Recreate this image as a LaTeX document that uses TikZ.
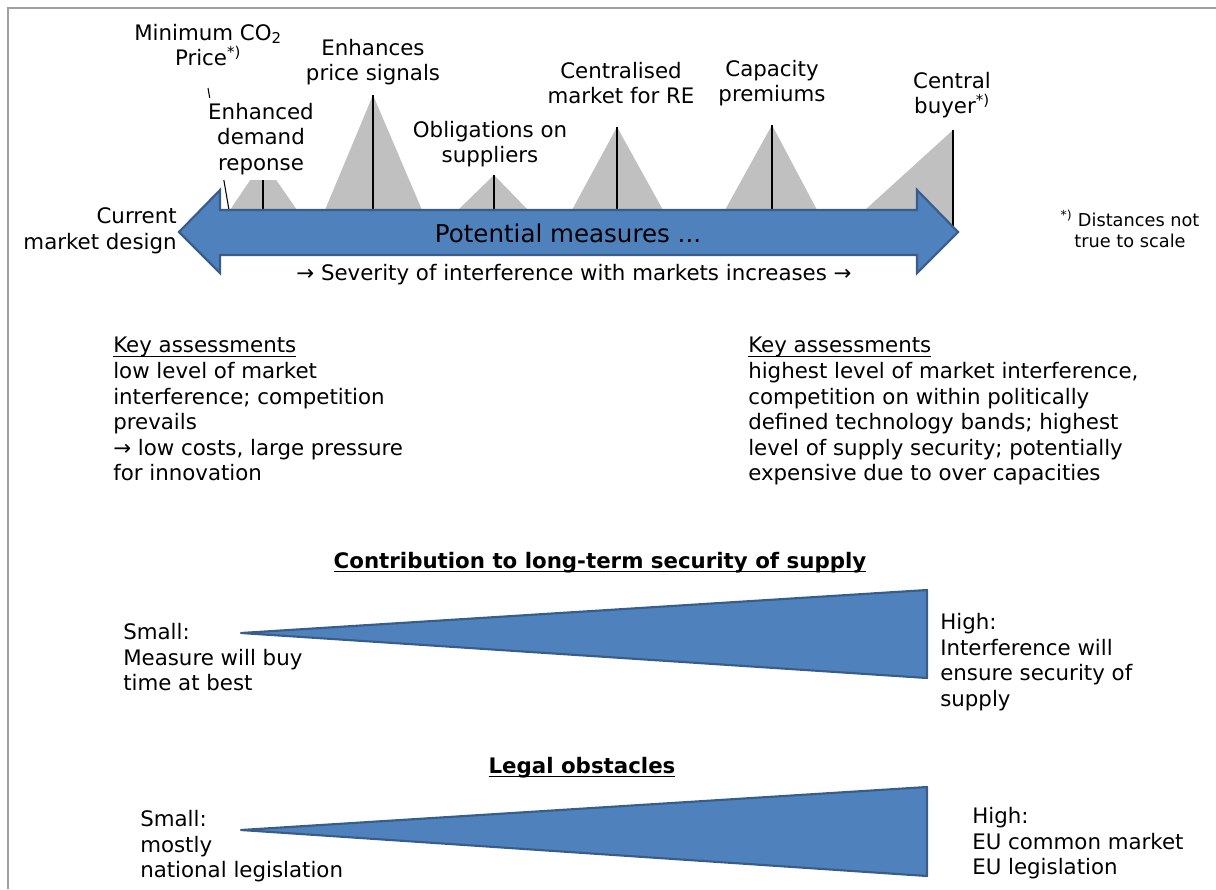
\documentclass[tikz,border=0pt]{standalone}
\usepackage{fontspec}
\setmainfont{DejaVu Sans}
\definecolor{arrowblue}{HTML}{4F81BD}
\definecolor{arrowedge}{HTML}{385D8A}
\definecolor{peakgray}{HTML}{C0C0C0}
\definecolor{framegray}{HTML}{A0A0A0}
\newsavebox{\ulbox}
\newcommand{\ulin}[1]{\sbox{\ulbox}{#1}\rlap{\rule[-3pt]{\wd\ulbox}{0.9pt}}\usebox{\ulbox}}
\newcommand{\peak}[4]{\fill[peakgray] (#1,210) -- (#2,#3) -- (#4,210) -- cycle;
	\draw[line width=1.1pt] (#2,#3) -- (#2,210)}

\begin{document}
\begin{tikzpicture}[x=0.75pt,y=-0.75pt,
	txt/.style={font=\fontsize{16}{19.2}\selectfont,inner sep=0pt},
	note/.style={font=\fontsize{13.3}{16}\selectfont,inner sep=0pt,align=center},
	head/.style={font=\bfseries\fontsize{16}{19.2}\selectfont,inner sep=0pt},
	wedge/.style={fill=arrowblue,draw=arrowedge,line width=1.6pt,line join=round}]
\useasboundingbox (0,0) rectangle (1216,889);
\draw[framegray,line width=1.5pt] (8,889) -- (8,8) -- (1216,8);
% peaks behind the arrow
\peak{230}{263}{161}{297};
\peak{325}{373}{95}{422};
\peak{458}{494}{175}{528};
\peak{572}{617}{127}{663};
\peak{725}{772}{125}{817};
	\fill[peakgray] (865,210) -- (953,130) -- (953,232) -- cycle;
	\draw[line width=1.1pt] (953,130) -- (953,227);
%
\coordinate (co2top) at (208,88);
\coordinate (co2foot) at (229,210);
\node[txt,align=center] (co2) at (208,45) {Minimum CO\textsubscript{2}\\Price\textsuperscript{*)}};
\draw[line width=0.8pt] (co2top) -- (co2foot);
\node[txt,align=center,fill=white,inner sep=4pt] (demand) at (261,139) {Enhanced\\demand\\reponse};
\node[txt,align=center] (signals) at (373,62) {Enhances\\price signals};
\node[txt,align=center] (oblig) at (490,144) {Obligations on\\suppliers};
\node[txt,align=center] (central) at (621,83) {Centralised\\market for RE};
\node[txt,align=center] (capacity) at (772,83) {Capacity\\premiums};
\node[txt,align=center] (buyer) at (952,95) {Central\\buyer\textsuperscript{*)}};
%
\draw[wedge,line join=miter] (179,232) -- (220,190) -- (220,210) -- (917,210) -- (917,190)
	-- (958,232) -- (917,273) -- (917,255) -- (220,255) -- (220,273) -- cycle;
\node[txt,font=\fontsize{18.4}{22}\selectfont] (measures) at (568,233) {Potential measures ...};
\node[txt,align=right,anchor=east] (current) at (177,231) {Current\\market design};
\node[txt] (severity) at (574,275) {→ Severity of interference with markets increases →};
\node[note] (scale) at (1130,229) {\textsuperscript{*)} Distances not\\true to scale};
%
\node[txt,align=left,anchor=north west] (keylow) at (113,337) {\ulin{Key assessments}\\low level of market\\interference; competition\\prevails\\→ low costs, large pressure\\for innovation};
\node[txt,align=left,anchor=north west] (keyhigh) at (748,337) {\ulin{Key assessments}\\highest level of market interference,\\competition on within politically\\defined technology bands; highest\\level of supply security; potentially\\expensive due to over capacities};
%
\node[head,anchor=base] (sechead) at (600,568) {\ulin{Contribution to long-term security of supply}};
\draw[wedge] (241,633) -- (927,590) -- (927,678) -- cycle;
\node[txt,align=left,anchor=north west] (secsmall) at (123,623) {Small:\\Measure will buy\\time at best};
\node[txt,align=left,anchor=north west] (sechigh) at (940,613) {High:\\Interference will\\ensure security of\\supply};
%
\node[head,anchor=base] (leghead) at (582,773) {\ulin{Legal obstacles}};
\draw[wedge] (241,830) -- (927,787) -- (927,876) -- cycle;
\node[txt,align=left,anchor=north west] (legsmall) at (140,810) {Small:\\mostly\\national legislation};
\node[txt,align=left,anchor=north west] (leghigh) at (972,807) {High:\\EU common market\\EU legislation};
\end{tikzpicture}
\end{document}
